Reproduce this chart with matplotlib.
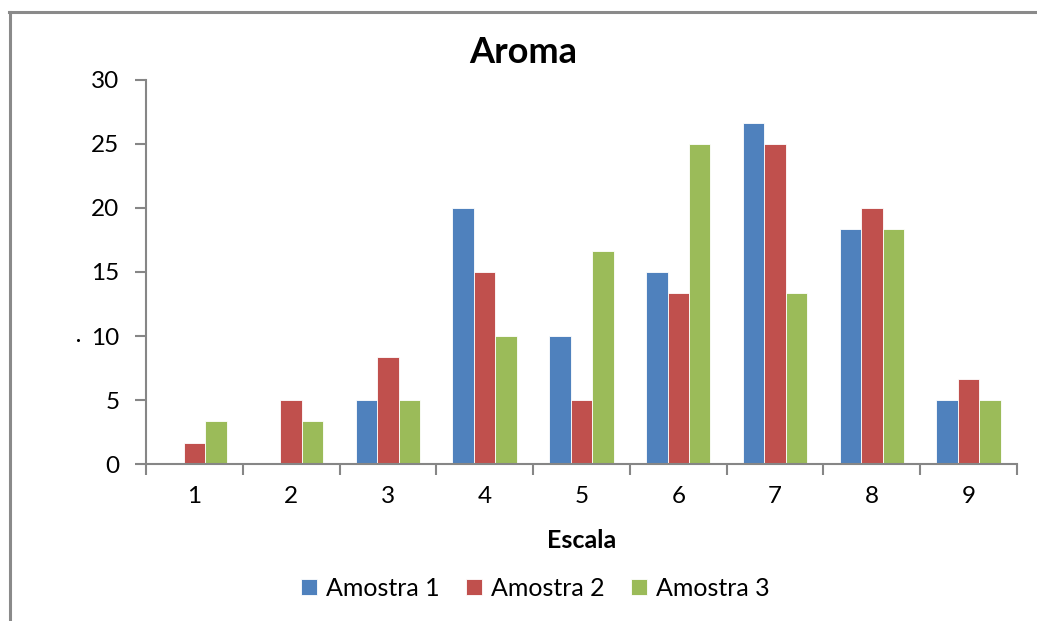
import matplotlib.pyplot as plt
import numpy as np
from matplotlib.lines import Line2D

# Escala (1-9) and percentage of answers per sample
escala = [1, 2, 3, 4, 5, 6, 7, 8, 9]
amostra_1 = [0, 0, 5, 20, 10, 15, 26.67, 18.33, 5]
amostra_2 = [1.67, 5, 8.33, 15, 5, 13.33, 25, 20, 6.67]
amostra_3 = [3.33, 3.33, 5, 10, 16.67, 25, 13.33, 18.33, 5]

series = [("Amostra 1", amostra_1, "#4F81BD"),
          ("Amostra 2", amostra_2, "#C0504D"),
          ("Amostra 3", amostra_3, "#9BBB59")]

plt.rcParams['font.family'] = ['Lato', 'DejaVu Sans']
axis_gray = "#868686"

fig = plt.figure(figsize=(10.37, 6.21), dpi=100)
ax = fig.add_axes([0.1408, 0.2528, 0.8399, 0.6184])

x = np.array(escala, dtype=float)
w = 0.222
for i, (name, vals, color) in enumerate(series):
    ax.bar(x + (i - 1) * w, vals, width=w, color=color, label=name,
           edgecolor="white", linewidth=0.6, zorder=2)

ax.set_xlim(0.5, 9.5)
ax.set_ylim(0, 30)
ax.set_yticks(range(0, 31, 5))
ax.set_xticks(x)
ax.set_xticklabels([str(v) for v in escala])
ax.set_xticks(np.arange(0.5, 10, 1), minor=True)
ax.tick_params(axis="x", which="major", length=0, pad=16, labelsize=17.5)
ax.tick_params(axis="x", which="minor", length=8, width=1.5, color=axis_gray)
ax.tick_params(axis="y", length=8, width=1.5, color=axis_gray, pad=11, labelsize=17.5)

for side in ["top", "right"]:
    ax.spines[side].set_visible(False)
for side in ["left", "bottom"]:
    ax.spines[side].set_color(axis_gray)
    ax.spines[side].set_linewidth(1.5)

fig.text(0.5045, 0.916, "Aroma", fontsize=26, fontweight="bold", ha="center", va="center")
ax.set_xlabel("Escala", fontsize=18, fontweight="bold", labelpad=16)

ax.legend(loc="center", bbox_to_anchor=(0.4466, -0.324), ncol=3, frameon=False,
          fontsize=18, handlelength=0.65, handleheight=0.65, handletextpad=0.35,
          columnspacing=1.05)

# outer chart frame (left and top edges only)
fig.add_artist(Line2D([0.0092, 0.0092], [0, 0.981], color="#8a8a8a", linewidth=2.2))
fig.add_artist(Line2D([0.0085, 1.0], [0.981, 0.981], color="#8a8a8a", linewidth=2.2))
fig.add_artist(Line2D([0.0752], [0.4525], marker="o", markersize=1.2, color="black"))

fig.savefig("out.png", dpi=100)
plt.close(fig)
